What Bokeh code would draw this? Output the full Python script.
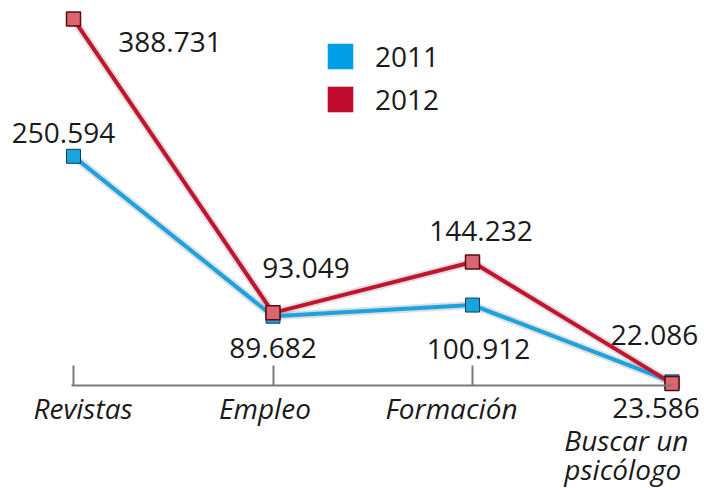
from bokeh.plotting import figure
from bokeh.models import ColumnDataSource, LabelSet, Legend, LegendItem, FixedTicker, Range1d
from bokeh.core.properties import value
from bokeh.embed import file_html
from bokeh.resources import INLINE

# ---- data ----
categories = ["Revistas", "Empleo", "Formación", "Buscar un psicólogo"]
series_names = ["2011", "2012"]
values_2011 = [250.594, 89.682, 100.912, 23.586]
values_2012 = [388.731, 93.049, 144.232, 22.086]

# ---- styles ----
BLUE = "#1ba3de"
BLUE_DARK = "#0b3f5c"
RED = "#c3142f"
RED_DARK = "#5e0812"
LEG_BLUE = "#009fe3"
LEG_RED = "#c00a2b"
FONT = "Open Sans"
TXT = "#1a1a1a"
AXIS_Y = 19.9                 # value at which the category axis is drawn
Y0, Y1 = -83.7, 407.4

xs = list(range(len(categories)))

def fmt(v):
    return f"{v:.3f}"

# label offsets (screen px, y up)
dx_2011 = [-10, 0, 6, -16]
dy_2011 = [13, -42, -53.5, -36.6]
dx_2012 = [96.5, 33, 8.5, -17.5]
dy_2012 = [-33.2, 34.6, 20.8, 37.9]
cat_dx = [9.5, -8, -21, 16.5]
cat_dy = [-33, -33, -33, -69]
cat_align = ["center", "center", "center", "right"]

def display_cat(c):
    parts = c.rsplit(" ", 1)
    return "\n".join(parts) if len(c) > 12 else c

src = ColumnDataSource(dict(
    x=xs,
    y11=values_2011, y12=values_2012,
    t11=[fmt(v) for v in values_2011], t12=[fmt(v) for v in values_2012],
    dx11=dx_2011, dy11=dy_2011, dx12=dx_2012, dy12=dy_2012,
    cat=[display_cat(c) for c in categories],
    cy=[AXIS_Y] * len(categories), cdx=cat_dx, cdy=cat_dy, calign=cat_align,
))

p = figure(width=704, height=488,
           x_range=Range1d(-0.366, 3.163), y_range=Range1d(Y0, Y1),
           output_backend="svg", toolbar_location=None, y_axis_location=None,
           min_border_left=0, min_border_right=0, min_border_top=0, min_border_bottom=0)
p.outline_line_color = None
p.grid.visible = False
p.background_fill_color = "white"
p.border_fill_color = "white"

ax = p.xaxis[0]
ax.fixed_location = AXIS_Y
ax.ticker = FixedTicker(ticks=[0, 1, 2])
ax.bounds = (-0.01, 3.0)
ax.major_tick_in = 20
ax.major_tick_out = 0
ax.minor_tick_in = 0
ax.minor_tick_out = 0
ax.axis_line_color = "#7a7a7a"
ax.axis_line_width = 2
ax.major_tick_line_color = "#7a7a7a"
ax.major_tick_line_width = 2
ax.major_label_overrides = {0: "", 1: "", 2: ""}
ax.major_label_standoff = 0

# shadows
for col in ("y11", "y12"):
    p.line("x", col, source=src, line_color="#000000", line_alpha=0.13, line_width=8)

p.line("x", "y11", source=src, line_color=BLUE, line_width=4)
p.line("x", "y12", source=src, line_color=RED, line_width=4)
p.scatter("x", "y11", source=src, marker="square", size=14, fill_color=BLUE, line_color=BLUE_DARK, line_width=1)
p.scatter("x", "y12", source=src, marker="square", size=14, fill_color="#d9676f", line_color=RED_DARK, line_width=1.5)

common = dict(source=src, text_font=value(FONT), text_font_size="28px", text_color=TXT,
              text_align="center", text_baseline="alphabetic")
p.add_layout(LabelSet(x="x", y="y11", text="t11", x_offset="dx11", y_offset="dy11", **common))
p.add_layout(LabelSet(x="x", y="y12", text="t12", x_offset="dx12", y_offset="dy12", **common))
p.add_layout(LabelSet(x="x", y="cy", text="cat", x_offset="cdx", y_offset="cdy", source=src,
                      text_font=value(FONT), text_font_size="28px", text_font_style="italic",
                      text_color=TXT, text_align="calign", text_baseline="alphabetic",
                      text_line_height=0.78))

# legend (zero-area quads at the data points carry the legend swatches)
q1 = p.quad(left="x", right="x", bottom="y11", top="y11", source=src,
            fill_color=LEG_BLUE, line_color=None)
q2 = p.quad(left="x", right="x", bottom="y12", top="y12", source=src,
            fill_color=LEG_RED, line_color=None)
legend = Legend(items=[LegendItem(label=series_names[0], renderers=[q1]),
                       LegendItem(label=series_names[1], renderers=[q2])],
                location=(324, 370), glyph_width=32, glyph_height=32, spacing=5,
                label_standoff=19, padding=0, margin=0,
                border_line_color=None, background_fill_alpha=0,
                label_text_font=FONT, label_text_font_size="28px", label_text_color=TXT)
p.add_layout(legend)

open("out.html", "w").write(file_html(p, INLINE))
